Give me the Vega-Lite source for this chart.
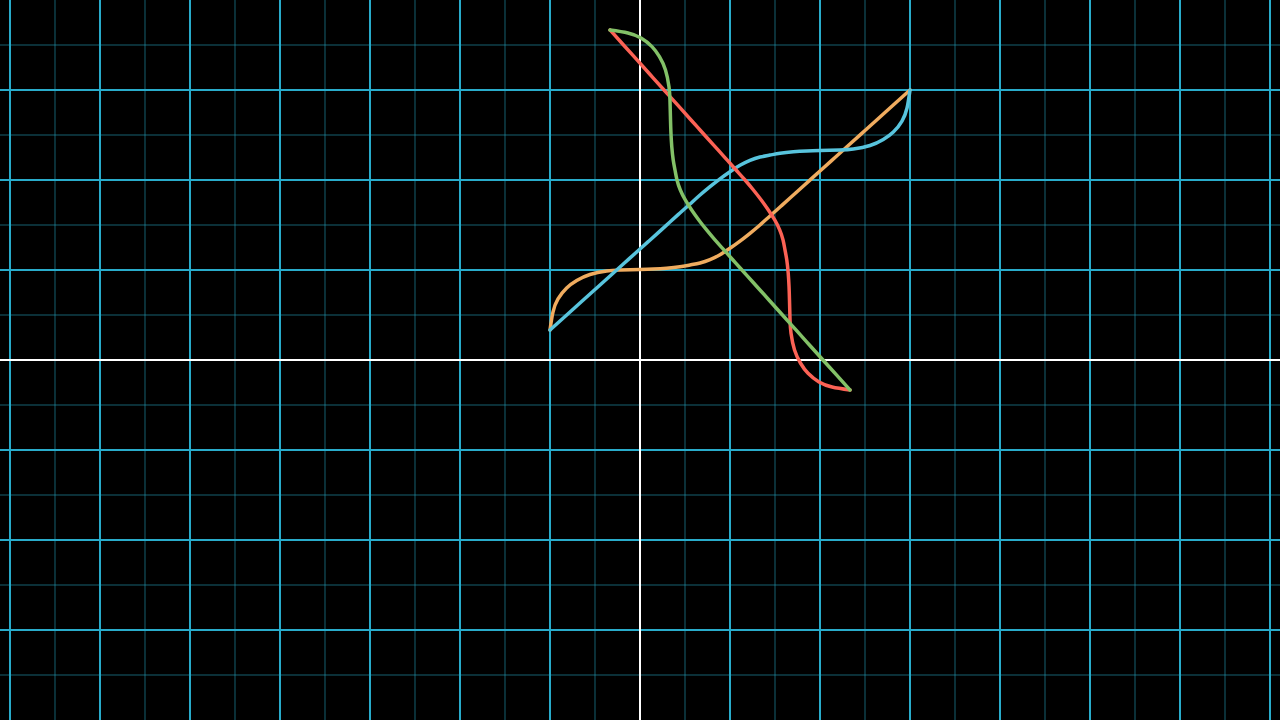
{
  "$schema": "https://vega.github.io/schema/vega-lite/v6.json",
  "width": 1280,
  "height": 720,
  "autosize": {"type": "none"},
  "padding": 0,
  "background": "#000000",
  "config": {"view": {"stroke": null}},
  "datasets": {
    "vminor": [{"x": -6.5}, {"x": -5.5}, {"x": -4.5}, {"x": -3.5}, {"x": -2.5}, {"x": -1.5}, {"x": -0.5}, {"x": 0.5}, {"x": 1.5}, {"x": 2.5}, {"x": 3.5}, {"x": 4.5}, {"x": 5.5}, {"x": 6.5}],
    "hminor": [{"y": -3.5}, {"y": -2.5}, {"y": -1.5}, {"y": -0.5}, {"y": 0.5}, {"y": 1.5}, {"y": 2.5}, {"y": 3.5}],
    "vmajor": [{"x": -7}, {"x": -6}, {"x": -5}, {"x": -4}, {"x": -3}, {"x": -2}, {"x": -1}, {"x": 1}, {"x": 2}, {"x": 3}, {"x": 4}, {"x": 5}, {"x": 6}, {"x": 7}],
    "hmajor": [{"y": -3}, {"y": -2}, {"y": -1}, {"y": 1}, {"y": 2}, {"y": 3}],
    "axisx": [{"x": 0}],
    "axisy": [{"y": 0}],
    "curves": [
      {"series": "orange", "i": 1, "x": -1, "y": 0.333},
      {"series": "orange", "i": 2, "x": -0.967, "y": 0.533},
      {"series": "orange", "i": 3, "x": -0.911, "y": 0.678},
      {"series": "orange", "i": 4, "x": -0.815, "y": 0.8},
      {"series": "orange", "i": 5, "x": -0.703, "y": 0.883},
      {"series": "orange", "i": 6, "x": -0.556, "y": 0.95},
      {"series": "orange", "i": 7, "x": -0.37, "y": 0.989},
      {"series": "orange", "i": 8, "x": -0.222, "y": 1.0},
      {"series": "orange", "i": 9, "x": 0, "y": 1.006},
      {"series": "orange", "i": 10, "x": 0.148, "y": 1.011},
      {"series": "orange", "i": 11, "x": 0.296, "y": 1.02},
      {"series": "orange", "i": 12, "x": 0.444, "y": 1.036},
      {"series": "orange", "i": 13, "x": 0.556, "y": 1.056},
      {"series": "orange", "i": 14, "x": 0.667, "y": 1.078},
      {"series": "orange", "i": 15, "x": 0.778, "y": 1.115},
      {"series": "orange", "i": 16, "x": 0.889, "y": 1.17},
      {"series": "orange", "i": 17, "x": 1.0, "y": 1.241},
      {"series": "orange", "i": 18, "x": 1.111, "y": 1.32},
      {"series": "orange", "i": 19, "x": 1.222, "y": 1.407},
      {"series": "orange", "i": 20, "x": 1.333, "y": 1.5},
      {"series": "orange", "i": 21, "x": 1.444, "y": 1.6},
      {"series": "orange", "i": 22, "x": 1.556, "y": 1.7},
      {"series": "orange", "i": 23, "x": 1.667, "y": 1.8},
      {"series": "orange", "i": 24, "x": 1.8, "y": 1.92},
      {"series": "orange", "i": 25, "x": 1.9, "y": 2.01},
      {"series": "orange", "i": 26, "x": 2.0, "y": 2.1},
      {"series": "orange", "i": 27, "x": 2.167, "y": 2.25},
      {"series": "orange", "i": 28, "x": 2.333, "y": 2.4},
      {"series": "orange", "i": 29, "x": 2.5, "y": 2.55},
      {"series": "orange", "i": 30, "x": 2.667, "y": 2.7},
      {"series": "orange", "i": 31, "x": 2.833, "y": 2.85},
      {"series": "orange", "i": 32, "x": 3.0, "y": 3.0},
      {"series": "blue", "i": 1, "x": 3.0, "y": 3.0},
      {"series": "blue", "i": 2, "x": 2.967, "y": 2.8},
      {"series": "blue", "i": 3, "x": 2.911, "y": 2.655},
      {"series": "blue", "i": 4, "x": 2.815, "y": 2.533},
      {"series": "blue", "i": 5, "x": 2.703, "y": 2.45},
      {"series": "blue", "i": 6, "x": 2.556, "y": 2.383},
      {"series": "blue", "i": 7, "x": 2.37, "y": 2.344},
      {"series": "blue", "i": 8, "x": 2.222, "y": 2.333},
      {"series": "blue", "i": 9, "x": 2.0, "y": 2.327},
      {"series": "blue", "i": 10, "x": 1.852, "y": 2.322},
      {"series": "blue", "i": 11, "x": 1.704, "y": 2.313},
      {"series": "blue", "i": 12, "x": 1.556, "y": 2.297},
      {"series": "blue", "i": 13, "x": 1.444, "y": 2.277},
      {"series": "blue", "i": 14, "x": 1.333, "y": 2.255},
      {"series": "blue", "i": 15, "x": 1.222, "y": 2.218},
      {"series": "blue", "i": 16, "x": 1.111, "y": 2.163},
      {"series": "blue", "i": 17, "x": 1.0, "y": 2.092},
      {"series": "blue", "i": 18, "x": 0.889, "y": 2.013},
      {"series": "blue", "i": 19, "x": 0.778, "y": 1.926},
      {"series": "blue", "i": 20, "x": 0.667, "y": 1.833},
      {"series": "blue", "i": 21, "x": 0.556, "y": 1.733},
      {"series": "blue", "i": 22, "x": 0.444, "y": 1.633},
      {"series": "blue", "i": 23, "x": 0.333, "y": 1.533},
      {"series": "blue", "i": 24, "x": 0.2, "y": 1.413},
      {"series": "blue", "i": 25, "x": 0.1, "y": 1.323},
      {"series": "blue", "i": 26, "x": 0.0, "y": 1.233},
      {"series": "blue", "i": 27, "x": -0.167, "y": 1.083},
      {"series": "blue", "i": 28, "x": -0.333, "y": 0.933},
      {"series": "blue", "i": 29, "x": -0.5, "y": 0.783},
      {"series": "blue", "i": 30, "x": -0.667, "y": 0.633},
      {"series": "blue", "i": 31, "x": -0.833, "y": 0.483},
      {"series": "blue", "i": 32, "x": -1.0, "y": 0.333},
      {"series": "red", "i": 1, "x": 2.334, "y": -0.333},
      {"series": "red", "i": 2, "x": 2.134, "y": -0.3},
      {"series": "red", "i": 3, "x": 1.989, "y": -0.244},
      {"series": "red", "i": 4, "x": 1.867, "y": -0.148},
      {"series": "red", "i": 5, "x": 1.784, "y": -0.036},
      {"series": "red", "i": 6, "x": 1.717, "y": 0.111},
      {"series": "red", "i": 7, "x": 1.678, "y": 0.297},
      {"series": "red", "i": 8, "x": 1.667, "y": 0.445},
      {"series": "red", "i": 9, "x": 1.661, "y": 0.667},
      {"series": "red", "i": 10, "x": 1.656, "y": 0.815},
      {"series": "red", "i": 11, "x": 1.647, "y": 0.963},
      {"series": "red", "i": 12, "x": 1.631, "y": 1.111},
      {"series": "red", "i": 13, "x": 1.611, "y": 1.223},
      {"series": "red", "i": 14, "x": 1.589, "y": 1.334},
      {"series": "red", "i": 15, "x": 1.552, "y": 1.445},
      {"series": "red", "i": 16, "x": 1.497, "y": 1.556},
      {"series": "red", "i": 17, "x": 1.426, "y": 1.667},
      {"series": "red", "i": 18, "x": 1.347, "y": 1.778},
      {"series": "red", "i": 19, "x": 1.26, "y": 1.889},
      {"series": "red", "i": 20, "x": 1.167, "y": 2.0},
      {"series": "red", "i": 21, "x": 1.067, "y": 2.111},
      {"series": "red", "i": 22, "x": 0.967, "y": 2.223},
      {"series": "red", "i": 23, "x": 0.867, "y": 2.334},
      {"series": "red", "i": 24, "x": 0.747, "y": 2.467},
      {"series": "red", "i": 25, "x": 0.657, "y": 2.567},
      {"series": "red", "i": 26, "x": 0.567, "y": 2.667},
      {"series": "red", "i": 27, "x": 0.417, "y": 2.834},
      {"series": "red", "i": 28, "x": 0.267, "y": 3.0},
      {"series": "red", "i": 29, "x": 0.117, "y": 3.167},
      {"series": "red", "i": 30, "x": -0.033, "y": 3.334},
      {"series": "red", "i": 31, "x": -0.183, "y": 3.5},
      {"series": "red", "i": 32, "x": -0.333, "y": 3.667},
      {"series": "green", "i": 1, "x": -0.334, "y": 3.667},
      {"series": "green", "i": 2, "x": -0.134, "y": 3.634},
      {"series": "green", "i": 3, "x": 0.011, "y": 3.578},
      {"series": "green", "i": 4, "x": 0.133, "y": 3.482},
      {"series": "green", "i": 5, "x": 0.216, "y": 3.37},
      {"series": "green", "i": 6, "x": 0.283, "y": 3.223},
      {"series": "green", "i": 7, "x": 0.322, "y": 3.037},
      {"series": "green", "i": 8, "x": 0.333, "y": 2.889},
      {"series": "green", "i": 9, "x": 0.339, "y": 2.667},
      {"series": "green", "i": 10, "x": 0.344, "y": 2.519},
      {"series": "green", "i": 11, "x": 0.353, "y": 2.371},
      {"series": "green", "i": 12, "x": 0.369, "y": 2.223},
      {"series": "green", "i": 13, "x": 0.389, "y": 2.111},
      {"series": "green", "i": 14, "x": 0.411, "y": 2.0},
      {"series": "green", "i": 15, "x": 0.448, "y": 1.889},
      {"series": "green", "i": 16, "x": 0.503, "y": 1.778},
      {"series": "green", "i": 17, "x": 0.574, "y": 1.667},
      {"series": "green", "i": 18, "x": 0.653, "y": 1.556},
      {"series": "green", "i": 19, "x": 0.74, "y": 1.445},
      {"series": "green", "i": 20, "x": 0.833, "y": 1.334},
      {"series": "green", "i": 21, "x": 0.933, "y": 1.223},
      {"series": "green", "i": 22, "x": 1.033, "y": 1.111},
      {"series": "green", "i": 23, "x": 1.133, "y": 1.0},
      {"series": "green", "i": 24, "x": 1.253, "y": 0.867},
      {"series": "green", "i": 25, "x": 1.343, "y": 0.767},
      {"series": "green", "i": 26, "x": 1.433, "y": 0.667},
      {"series": "green", "i": 27, "x": 1.583, "y": 0.5},
      {"series": "green", "i": 28, "x": 1.733, "y": 0.334},
      {"series": "green", "i": 29, "x": 1.883, "y": 0.167},
      {"series": "green", "i": 30, "x": 2.033, "y": 0.0},
      {"series": "green", "i": 31, "x": 2.183, "y": -0.166},
      {"series": "green", "i": 32, "x": 2.333, "y": -0.333}
    ]
  },
  "layer": [
    {
      "data": {"name": "vminor"},
      "mark": {"type": "rule", "color": "#29ABCA", "opacity": 0.28, "strokeWidth": 2},
      "encoding": {"x": {"field": "x", "type": "quantitative", "scale": {"domain": [-7.1111, 7.1111], "nice": false, "zero": false}, "axis": null}}
    },
    {
      "data": {"name": "hminor"},
      "mark": {"type": "rule", "color": "#29ABCA", "opacity": 0.28, "strokeWidth": 2},
      "encoding": {"y": {"field": "y", "type": "quantitative", "scale": {"domain": [-4, 4], "nice": false, "zero": false}, "axis": null}}
    },
    {
      "data": {"name": "vmajor"},
      "mark": {"type": "rule", "color": "#29ABCA", "strokeWidth": 2},
      "encoding": {"x": {"field": "x", "type": "quantitative", "axis": null}}
    },
    {
      "data": {"name": "hmajor"},
      "mark": {"type": "rule", "color": "#29ABCA", "strokeWidth": 2},
      "encoding": {"y": {"field": "y", "type": "quantitative", "axis": null}}
    },
    {
      "data": {"name": "axisx"},
      "mark": {"type": "rule", "color": "#FFFFFF", "strokeWidth": 2},
      "encoding": {"x": {"field": "x", "type": "quantitative", "axis": null}}
    },
    {
      "data": {"name": "axisy"},
      "mark": {"type": "rule", "color": "#FFFFFF", "strokeWidth": 2},
      "encoding": {"y": {"field": "y", "type": "quantitative", "axis": null}}
    },
    {
      "data": {"name": "curves"},
      "mark": {"type": "line", "strokeWidth": 3.5, "interpolate": "natural", "strokeCap": "round"},
      "encoding": {
        "x": {"field": "x", "type": "quantitative", "axis": null},
        "y": {"field": "y", "type": "quantitative", "axis": null},
        "order": {"field": "i", "type": "quantitative"},
        "color": {"field": "series", "type": "nominal", "legend": null,
          "scale": {"domain": ["orange", "blue", "red", "green"], "range": ["#F0AC5F", "#58C4DD", "#FC6255", "#83C167"]}}
      }
    }
  ]
}
